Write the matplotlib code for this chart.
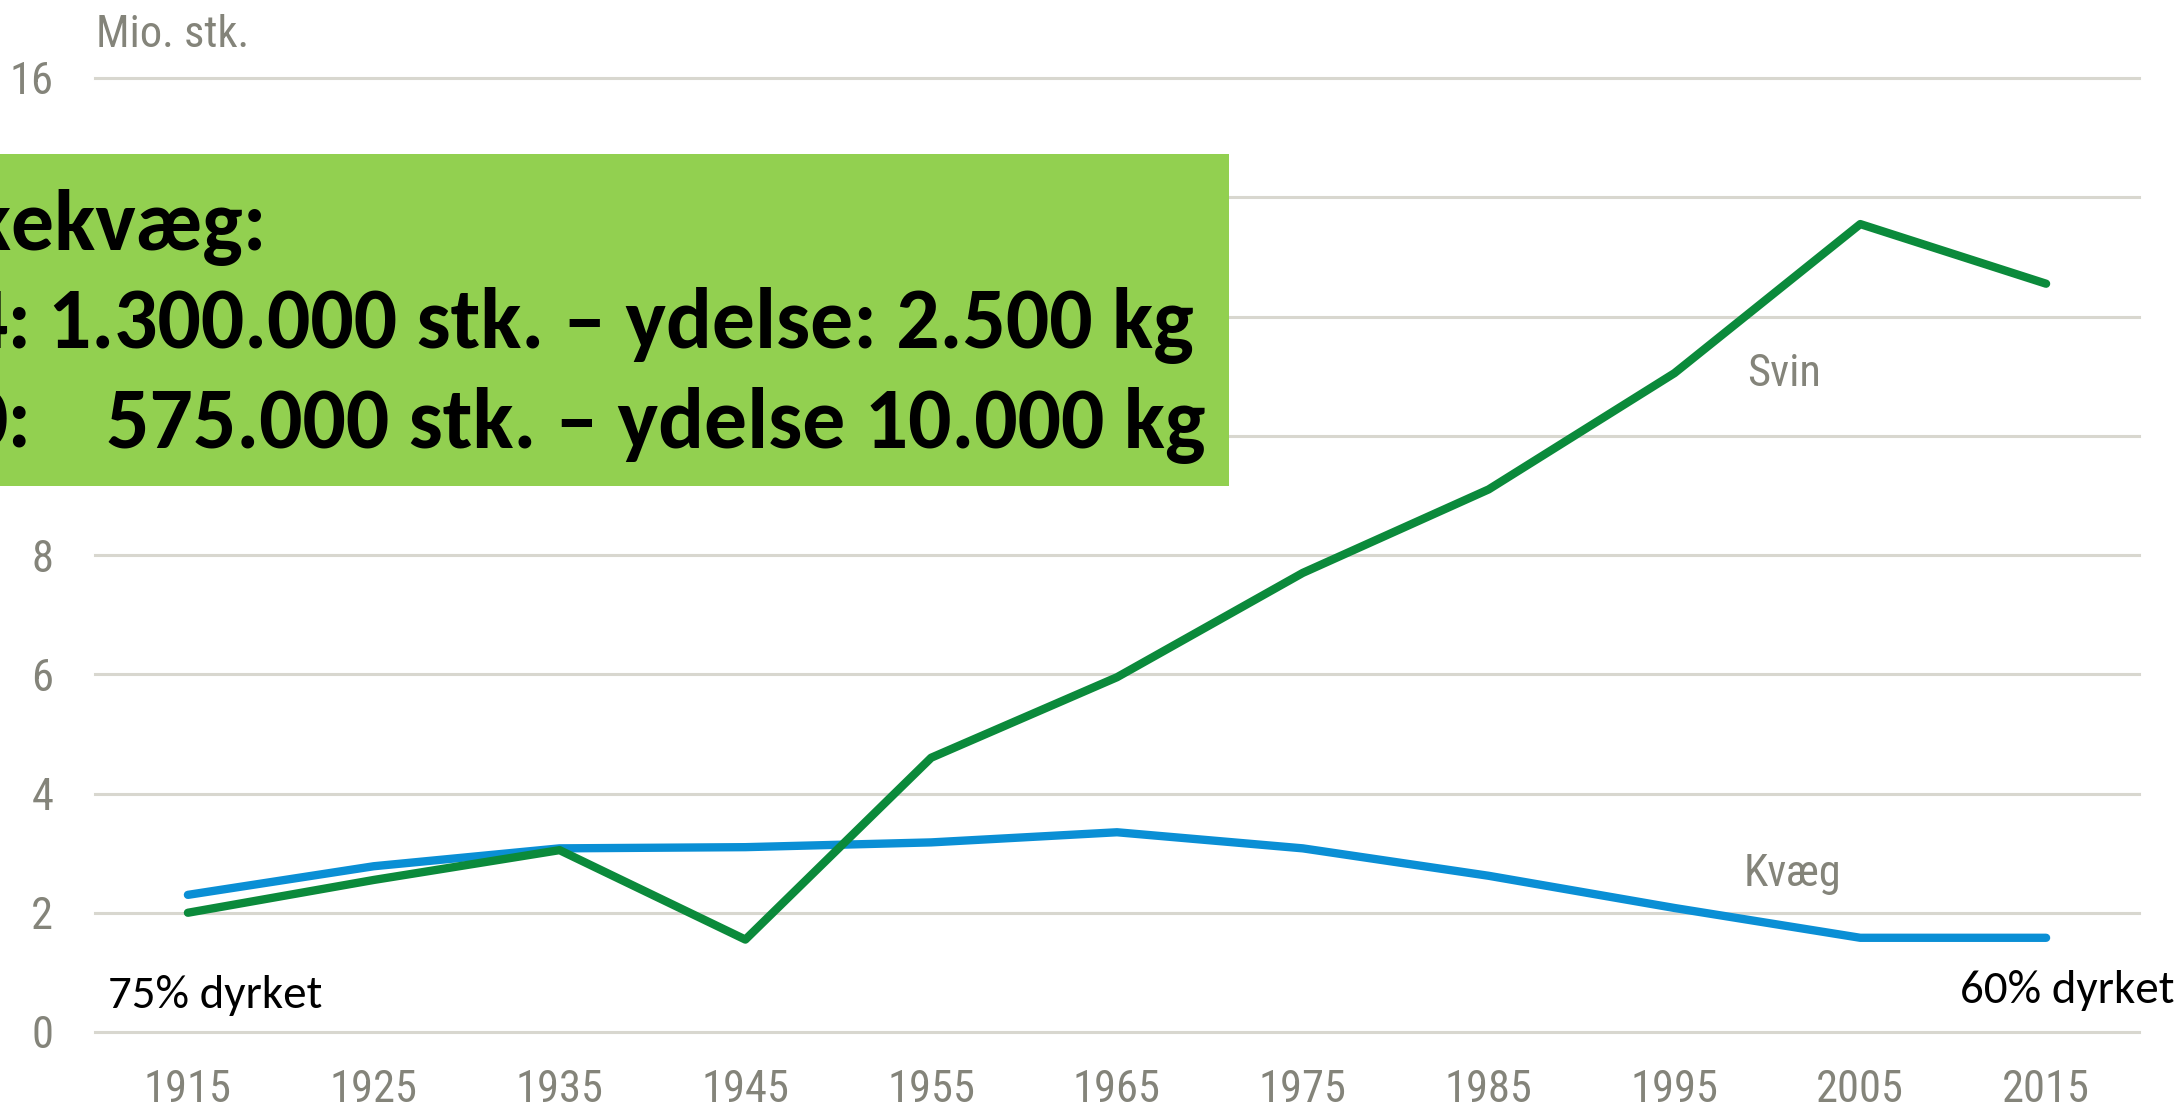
import matplotlib
matplotlib.use("Agg")
import matplotlib.pyplot as plt
from matplotlib import font_manager

# ---------------- data ----------------
years = [1915, 1925, 1935, 1945, 1955, 1965, 1975, 1985, 1995, 2005, 2015]
svin = [2.0, 2.55, 3.05, 1.55, 4.6, 5.95, 7.7, 9.1, 11.05, 13.55, 12.55]
kvaeg = [2.3, 2.78, 3.08, 3.1, 3.18, 3.35, 3.08, 2.62, 2.08, 1.58, 1.58]
y_ticks = [0, 2, 4, 6, 8, 10, 12, 14, 16]
unit_label = "Mio. stk."
series_labels = ["Svin", "Kvæg"]
box_line1 = "Malkekvæg:"
box_line2_prefix = "4:"
box_line2 = "1.300.000 stk. – ydelse: 2.500 kg"
box_line3_prefix = "0:"
box_line3 = "575.000 stk. – ydelse 10.000 kg"
note_left = "75% dyrket"
note_right = "60% dyrket"

# ---------------- style ----------------
W, H = 2182, 1108
GREY_TXT = "#84847a"
GRID = "#d8d7cf"
GREEN = "#0b8a3b"
BLUE = "#0a8fd5"
BOX = "#92d050"

avail = {f.name for f in font_manager.fontManager.ttflist}


def pick(cands):
    for c in cands:
        if c in avail:
            return c
    return "DejaVu Sans"


narrow = pick(["Liberation Sans Narrow", "Arial Narrow", "Nimbus Sans Narrow",
               "Roboto Condensed", "Archivo Narrow", "PT Sans Narrow",
               "Liberation Sans"])
body = pick(["Carlito", "Calibri", "Lato"])

fig = plt.figure(figsize=(W / 100, H / 100), dpi=100)
fig.patch.set_facecolor("white")
r = fig.canvas.get_renderer()


def fx(px):
    return px / W


def fy(py):
    return 1 - py / H


def fit(t, target):
    w = t.get_window_extent(r).width
    t.set_fontsize(t.get_fontsize() * target / w)
    return t.get_fontsize()


tick_fs = 32 if narrow != "Liberation Sans" else 30

ax = fig.add_axes([fx(95), fy(1032), (2139 - 95) / W, (1032 - 78) / H])
ax.set_xlim(1910, 2020)
ax.set_ylim(0, 16)
for s in ax.spines.values():
    s.set_visible(False)
for v in y_ticks:
    ax.axhline(v, color=GRID, lw=2.2, zorder=1, clip_on=False)

ax.plot(years, kvaeg, color=BLUE, lw=6, solid_joinstyle="round",
        solid_capstyle="round", zorder=3)
ax.plot(years, svin, color=GREEN, lw=6, solid_joinstyle="round",
        solid_capstyle="round", zorder=4)

ax.set_xticks(years)
ax.set_xticklabels([str(y) for y in years])
ax.set_yticks(y_ticks)
ax.set_yticklabels([str(v) for v in y_ticks])
ax.tick_params(axis="both", length=0, labelsize=tick_fs, labelcolor=GREY_TXT)
ax.tick_params(axis="x", pad=27)
ax.tick_params(axis="y", pad=30)
for lab in ax.get_xticklabels() + ax.get_yticklabels():
    lab.set_fontfamily(narrow)

fig.text(fx(96), fy(35), unit_label, color=GREY_TXT, fontsize=tick_fs,
         family=narrow, ha="left", va="center")
fig.text(fx(1784), fy(374), series_labels[0], color=GREY_TXT, fontsize=tick_fs,
         family=narrow, ha="center", va="center")
fig.text(fx(1792), fy(874), series_labels[1], color=GREY_TXT, fontsize=tick_fs,
         family=narrow, ha="center", va="center")

# notes
tl = fig.text(fx(108), fy(1008), note_left, color="black", fontsize=30,
              family=body, ha="left", va="baseline")
note_fs = fit(tl, 215)
fig.text(fx(1960), fy(1003), note_right, color="black", fontsize=note_fs,
         family=body, ha="left", va="baseline")

# green box
fig.patches.append(plt.Rectangle((0, fy(486)), fx(1229), (486 - 154) / H,
                                 transform=fig.transFigure, facecolor=BOX,
                                 edgecolor="none", zorder=5))

t2 = fig.text(fx(1194), fy(348), box_line2, color="black", fontsize=56,
              fontweight="bold", family=body, ha="right", va="baseline", zorder=6)
fs = fit(t2, 1148)

fig.text(fx(267), fy(250), box_line1, color="black", fontsize=fs,
         fontweight="bold", family=body, ha="right", va="baseline", zorder=6)
fig.text(fx(31), fy(348), box_line2_prefix, color="black", fontsize=fs,
         fontweight="bold", family=body, ha="right", va="baseline", zorder=6)
fig.text(fx(31), fy(448), box_line3_prefix, color="black", fontsize=fs,
         fontweight="bold", family=body, ha="right", va="baseline", zorder=6)
fig.text(fx(1205), fy(448), box_line3, color="black", fontsize=fs,
         fontweight="bold", family=body, ha="right", va="baseline", zorder=6)

fig.savefig("out.png", dpi=100)
